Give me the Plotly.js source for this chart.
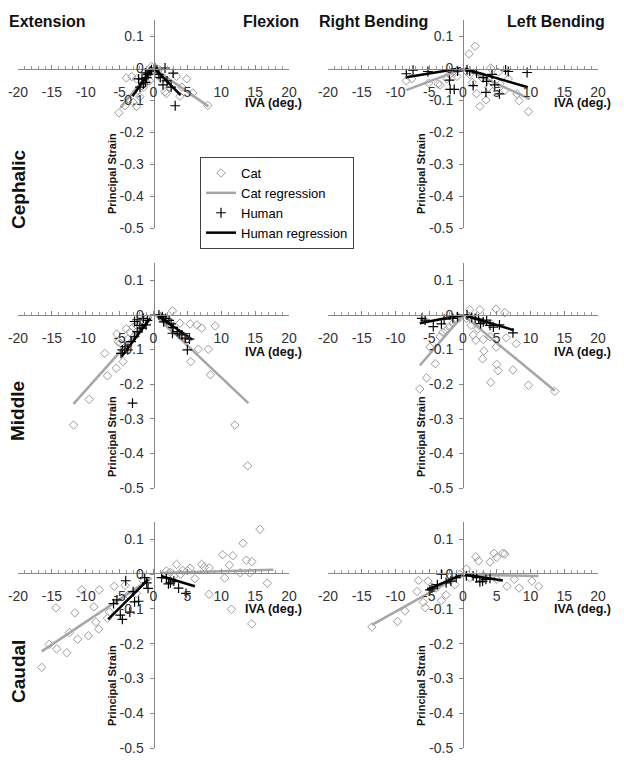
<!DOCTYPE html>
<html><head><meta charset="utf-8">
<script src="https://cdn.plot.ly/plotly-3.0.1.min.js"></script>
<style>html,body{margin:0;padding:0;background:#fff}#chart{width:624px;height:760px}</style>
</head><body><div id="chart"></div>
<script>
// ---------- tick labels ----------
const xTickVals = [-20,-15,-10,-5,0,5,10,15,20];
const xTickText = ['-20','-15','-10','-5','0','5','10','15','20'];
const yTickVals = [0.1,0,-0.1,-0.2,-0.3,-0.4,-0.5];
const yTickText = ['0.1','0','-0.1','-0.2','-0.3','-0.4','-0.5'];

// ---------- Cephalic, extension / flexion ----------
const catA_x = [-5.1,-4.2,-3.7,-4.0,-3.2,-2.5,-2.5,-2.0,-1.7,-2.3,-3.0,-1.0,-0.8,-0.5,-0.3,-1.2,-0.6,0.3,0.6,1.0,1.7,1.9,2.4,3.4,4.2,3.9,4.9,5.8,8.0,0.8,-1.5];
const catA_y = [-0.14,-0.118,-0.097,-0.031,-0.027,-0.034,-0.12,-0.09,-0.055,-0.07,-0.107,-0.045,-0.02,-0.01,0.005,-0.03,-0.04,-0.01,-0.02,-0.03,-0.074,-0.08,-0.06,-0.026,-0.06,-0.088,-0.034,-0.078,-0.117,-0.005,-0.06];
const humA_x = [-2.2,-2.0,-1.7,-1.5,-1.2,-1.0,-0.8,-0.5,-0.3,0.2,0.5,0.8,1.0,1.4,1.7,2.0,2.9,3.2,2.6,-1.2];
const humA_y = [-0.034,-0.06,-0.034,-0.05,-0.015,-0.03,-0.02,-0.01,-0.005,0.0,-0.005,-0.02,-0.03,-0.053,0.0,-0.04,-0.016,-0.118,-0.06,-0.045];
const catRegA_x = [-0.3,-4.9,null,0.3,8.1];
const catRegA_y = [-0.005,-0.125,null,-0.005,-0.12];
const humRegA_x = [-0.3,-3.1,null,0.3,4.0];
const humRegA_y = [-0.005,-0.088,null,-0.005,-0.085];

// ---------- Cephalic, right / left bending ----------
const catB_x = [0.9,1.8,-8.4,2.5,3.4,9.7,8.3,8.0,6.7,5.2,4.1,1.4,-2.4,-3.7,-7.6,-1.2,-0.9,-3.4,-5.1,0.5,2.8,3.8,5.5,6.2,-2.0,1.0,2.0];
const catB_y = [0.044,0.068,-0.04,-0.12,-0.1,-0.136,-0.102,-0.081,-0.034,-0.013,0.0,-0.045,-0.034,-0.05,-0.034,-0.013,-0.026,-0.053,-0.047,-0.01,-0.03,-0.06,-0.05,-0.07,-0.02,-0.02,-0.08];
const humB_x = [-8.4,-7.4,-5.2,-2.0,-1.9,-1.3,-0.8,1.5,3.4,3.5,4.7,5.4,6.3,6.7,9.5,0.6,1.0,2.0,3.0,4.3];
const humB_y = [-0.018,-0.007,-0.011,-0.038,-0.067,-0.067,-0.01,-0.055,-0.076,-0.042,-0.053,-0.081,-0.006,-0.011,-0.014,-0.005,-0.01,-0.015,-0.03,-0.02];
const catRegB_x = [-0.3,-8.4,null,0.3,9.9];
const catRegB_y = [-0.005,-0.069,null,-0.003,-0.097];
const humRegB_x = [-0.3,-8.4,null,0.3,9.6];
const humRegB_y = [-0.001,-0.029,null,-0.003,-0.06];

// ---------- Middle, extension / flexion ----------
const catC_x = [-11.8,-9.5,-7.2,-6.8,-5.5,-4.5,-5.4,-4.9,-4.0,-3.5,-3.0,-2.5,-2.0,-1.5,-1.0,-3.8,-2.8,-5.2,2.8,3.9,5.4,6.4,7.1,9.1,6.6,8.1,5.5,8.4,12.0,13.9,1.5,2.2,3.0,4.5,1.0,2.5];
const catC_y = [-0.318,-0.244,-0.111,-0.176,-0.154,-0.135,-0.055,-0.082,-0.04,-0.05,-0.035,-0.03,-0.025,-0.02,-0.01,-0.07,-0.06,-0.078,0.012,-0.024,-0.026,-0.029,-0.038,-0.032,-0.099,-0.099,-0.135,-0.173,-0.318,-0.436,-0.01,-0.03,-0.045,-0.06,-0.005,-0.02];
const humC_x = [-2.8,-2.4,-1.5,-0.9,-1.1,-1.7,-2.4,-2.8,-3.3,-4.2,-4.6,-4.8,-3.8,-3.1,-2.0,0.8,1.3,1.8,2.3,2.6,2.9,2.8,3.5,4.2,4.7,5.3,5.0,1.5,3.8];
const humC_y = [-0.019,-0.014,-0.01,-0.016,-0.029,-0.038,-0.048,-0.063,-0.077,-0.092,-0.101,-0.111,-0.101,-0.255,-0.03,0.0,-0.005,-0.01,-0.016,-0.026,-0.036,-0.053,-0.048,-0.058,-0.067,-0.07,-0.101,-0.02,-0.055];
const catRegC_x = [-0.3,-11.8,null,0.5,14.0];
const catRegC_y = [-0.005,-0.257,null,-0.005,-0.255];
const humRegC_x = [-0.5,-4.7,null,0.7,5.7];
const humRegC_y = [-0.01,-0.12,null,-0.003,-0.071];

// ---------- Middle, right / left bending ----------
const catD_x = [-6.4,-5.4,-4.1,-4.9,-3.4,-3.0,-2.5,-2.0,-1.5,-1.0,-0.5,1.0,2.5,4.9,6.2,1.5,1.9,3.0,3.1,2.9,4.9,5.0,5.2,4.1,7.4,7.9,6.4,9.7,13.6,4.0,0.5,1.2,2.2];
const catD_y = [-0.214,-0.182,-0.141,-0.093,-0.063,-0.05,-0.045,-0.035,-0.025,-0.015,-0.008,0.015,0.015,0.017,0.007,-0.058,-0.073,-0.071,-0.104,-0.127,-0.093,-0.143,-0.161,-0.195,-0.159,-0.083,-0.066,-0.203,-0.221,-0.063,-0.01,-0.03,-0.04];
const humD_x = [-6.1,-5.6,-4.4,-3.2,-2.8,-1.5,-0.8,1.3,1.8,2.3,3.0,3.5,4.0,5.4,7.4,2.6,4.5,0.6];
const humD_y = [-0.01,-0.015,-0.034,-0.026,-0.012,-0.01,-0.005,-0.007,-0.01,-0.012,-0.02,-0.015,-0.03,-0.029,-0.052,-0.025,-0.035,0.0];
const catRegD_x = [-0.3,-6.4,null,0.3,13.6];
const catRegD_y = [-0.007,-0.146,null,-0.005,-0.219];
const humRegD_x = [-0.3,-6.4,null,0.5,7.5];
const humRegD_y = [-0.001,-0.024,null,-0.003,-0.044];

// ---------- Caudal, extension / flexion ----------
const catE_x = [-16.5,-15.4,-14.3,-12.8,-12.4,-14.4,-11.6,-11.2,-9.6,-10.6,-8.5,-8.1,-8.0,-8.8,-6.5,-6.8,-5.8,-4.2,-3.7,-2.5,-1.5,1.9,3.4,4.3,5.4,6.1,7.1,8.2,8.2,10.2,10.5,11.7,11.2,11.5,13.2,12.8,13.7,14.5,14.2,14.5,15.7,16.8,2.5,3.0,4.0,5.0,7.5];
const catE_y = [-0.268,-0.202,-0.215,-0.226,-0.168,-0.097,-0.111,-0.187,-0.177,-0.045,-0.138,-0.158,-0.045,-0.094,-0.109,-0.127,-0.035,-0.032,-0.06,-0.055,-0.02,0.009,0.028,0.011,0.017,-0.013,0.028,0.018,-0.058,0.056,-0.011,0.053,0.026,-0.101,0.089,0.004,0.04,0.036,0.004,-0.143,0.129,-0.026,0.005,-0.005,0.0,0.01,0.02];
const humE_x = [-4.1,-4.9,-4.6,-3.5,-5.9,-5.4,-2.2,-1.0,-1.3,-0.8,-3.0,1.9,2.2,3.7,4.8,1.2,2.5,3.0,-2.8];
const humE_y = [-0.019,-0.118,-0.13,-0.109,-0.085,-0.074,-0.078,-0.025,-0.01,-0.041,-0.05,-0.011,-0.028,-0.04,-0.055,-0.01,-0.025,-0.02,-0.08];
const catRegE_x = [-0.3,-16.5,null,1.0,17.7];
const catRegE_y = [-0.011,-0.222,null,0.003,0.013];
const humRegE_x = [-0.8,-6.7,null,1.2,6.1];
const humRegE_y = [-0.016,-0.13,null,-0.006,-0.035];

// ---------- Caudal, right / left bending ----------
const catF_x = [-13.5,-9.7,-8.6,-6.8,-6.6,-5.2,-5.9,-5.6,-3.2,-2.5,-1.2,-4.0,-2.0,0.5,1.9,2.3,4.0,4.6,5.0,5.9,6.2,6.5,7.6,8.3,10.2,11.2,5.0,3.0,1.0,-0.5];
const catF_y = [-0.152,-0.136,-0.106,-0.05,-0.018,-0.02,-0.081,-0.096,-0.076,-0.06,-0.03,-0.04,-0.01,0.015,0.05,0.038,0.035,0.06,0.048,0.06,0.058,-0.035,-0.015,-0.04,-0.02,-0.035,-0.015,-0.005,-0.01,0.0];
const humF_x = [-3.2,-4.6,-4.9,-2.5,-1.8,-1.0,0.5,1.5,2.0,2.9,3.4,4.0,-3.8,2.5];
const humF_y = [0.0,-0.04,-0.045,-0.025,-0.02,-0.01,-0.005,-0.005,-0.01,-0.02,-0.015,-0.012,-0.03,-0.022];
const catRegF_x = [-0.3,-13.5,null,0.3,11.2];
const catRegF_y = [-0.003,-0.146,null,-0.002,-0.005];
const humRegF_x = [-0.3,-5.3,null,0.3,5.9];
const humRegF_y = [-0.002,-0.045,null,-0.002,-0.018];

// ---------- layout helpers ----------
const W = 624, H = 760;
const fx = v => v / W;
const fy = v => 1 - v / H;
const FONT = 'Liberation Sans, Arial, sans-serif';
const CAT_COL = '#9c9c9c', CATLINE_COL = '#a6a6a6', HUM_COL = '#000000';

const panels = [
  {cx:catA_x, cy:catA_y, hx:humA_x, hy:humA_y, crx:catRegA_x, cry:catRegA_y, hrx:humRegA_x, hry:humRegA_y, xd:[18,289], yd:[20,228], x0:153.5, y0:69},
  {cx:catB_x, cy:catB_y, hx:humB_x, hy:humB_y, crx:catRegB_x, cry:catRegB_y, hrx:humRegB_x, hry:humRegB_y, xd:[328,598], yd:[20,228], x0:463, y0:69},
  {cx:catC_x, cy:catC_y, hx:humC_x, hy:humC_y, crx:catRegC_x, cry:catRegC_y, hrx:humRegC_x, hry:humRegC_y, xd:[18,289], yd:[263,488], x0:153.5, y0:315},
  {cx:catD_x, cy:catD_y, hx:humD_x, hy:humD_y, crx:catRegD_x, cry:catRegD_y, hrx:humRegD_x, hry:humRegD_y, xd:[328,598], yd:[263,488], x0:463, y0:315},
  {cx:catE_x, cy:catE_y, hx:humE_x, hy:humE_y, crx:catRegE_x, cry:catRegE_y, hrx:humRegE_x, hry:humRegE_y, xd:[18,289], yd:[522,748], x0:153.5, y0:573},
  {cx:catF_x, cy:catF_y, hx:humF_x, hy:humF_y, crx:catRegF_x, cry:catRegF_y, hrx:humRegF_x, hry:humRegF_y, xd:[328,598], yd:[522,748], x0:463, y0:573}
];

const traces = [];
const layout = {
  width: W, height: H,
  margin: {l:0, r:0, t:0, b:0},
  paper_bgcolor: '#fff', plot_bgcolor: 'rgba(0,0,0,0)',
  font: {family: FONT, color: '#000'},
  showlegend: true,
  legend: {
    x: fx(200), y: fy(157), xanchor: 'left', yanchor: 'top',
    bgcolor: '#fff', bordercolor: '#404040', borderwidth: 1,
    font: {family: FONT, size: 13, color: '#000'},
    itemwidth: 30, tracegroupgap: 0, traceorder: 'normal'
  },
  annotations: [],
  hovermode: false
};

panels.forEach((p, i) => {
  const n = i + 1;
  const xa = n === 1 ? 'x' : 'x' + n;
  const ya = n === 1 ? 'y' : 'y' + n;
  const first = i === 0;
  traces.push({type:'scatter', mode:'markers', x:p.cx, y:p.cy, xaxis:xa, yaxis:ya, name:'Cat', legendgroup:'cat', showlegend:first,
    marker:{symbol:'diamond-open', size:6.5, color:CAT_COL, line:{width:1, color:CAT_COL}}, cliponaxis:false});
  traces.push({type:'scatter', mode:'lines', x:p.crx, y:p.cry, xaxis:xa, yaxis:ya, name:'Cat regression', legendgroup:'catreg', showlegend:first,
    line:{color:CATLINE_COL, width:2.5}, connectgaps:false});
  traces.push({type:'scatter', mode:'markers', x:p.hx, y:p.hy, xaxis:xa, yaxis:ya, name:'Human', legendgroup:'hum', showlegend:first,
    marker:{symbol:'cross-thin-open', size:7, color:HUM_COL, line:{width:1.2, color:HUM_COL}}, cliponaxis:false});
  traces.push({type:'scatter', mode:'lines', x:p.hrx, y:p.hry, xaxis:xa, yaxis:ya, name:'Human regression', legendgroup:'humreg', showlegend:first,
    line:{color:HUM_COL, width:2.5}, connectgaps:false});

  layout['xaxis' + (n === 1 ? '' : n)] = {
    domain:[fx(p.xd[0]), fx(p.xd[1])], range:[-20,20], anchor:'free', position: fy(p.y0),
    showline:true, linecolor:'#868686', linewidth:1, showgrid:false, zeroline:false,
    tickmode:'array', tickvals:xTickVals, ticktext:xTickText,
    ticks:'inside', ticklen:4, tickcolor:'#868686', tickwidth:1,
    minor:{tickmode:'linear', tick0:0, dtick:1, ticks:'inside', ticklen:3, tickcolor:'#9a9a9a', showgrid:false},
    tickfont:{family:FONT, size:14, color:'#333'}, ticklabelstandoff:10, fixedrange:true
  };
  layout['yaxis' + (n === 1 ? '' : n)] = {
    domain:[fy(p.yd[1]), fy(p.yd[0])], range:[-0.5,0.15], anchor:'free', position: fx(p.x0),
    showline:true, linecolor:'#868686', linewidth:1, showgrid:false, zeroline:false,
    tickmode:'array', tickvals:yTickVals, ticktext:yTickText,
    ticks:'outside', ticklen:4, tickcolor:'#868686', tickwidth:1,
    tickfont:{family:FONT, size:14, color:'#333'}, ticklabelstandoff:3, fixedrange:true
  };
});

function ann(text, x, y, opts) {
  layout.annotations.push(Object.assign({
    text: text, x: fx(x), y: fy(y), xref:'paper', yref:'paper', showarrow:false,
    xanchor:'center', yanchor:'middle', font:{family:FONT, size:12, color:'#000'}
  }, opts || {}));
}
const HB = {family:FONT, size:16, color:'#111'};
ann('<b>Extension</b>', 7, 21, {xanchor:'left', font:HB});
ann('<b>Flexion</b>', 301, 21, {xanchor:'right', font:HB});
ann('<b>Right Bending</b>', 317, 21, {xanchor:'left', font:HB});
ann('<b>Left Bending</b>', 607, 21, {xanchor:'right', font:HB});
const RB = {family:FONT, size:19, color:'#111'};
ann('<b>Cephalic</b>', 18, 189, {textangle:-90, font:RB});
ann('<b>Middle</b>', 18, 411, {textangle:-90, font:RB});
ann('<b>Caudal</b>', 18, 672, {textangle:-90, font:RB});
const AB = {family:FONT, size:12.5, color:'#111'};
[103, 352, 609].forEach(yy => {
  ann('<b>IVA (deg.)</b>', 304, yy, {xanchor:'right', font:AB});
  ann('<b>IVA (deg.)</b>', 613, yy, {xanchor:'right', font:AB});
});
const PB = {family:FONT, size:11, color:'#111'};
[174, 437, 686].forEach(yy => {
  ann('<b>Principal Strain</b>', 112, yy, {textangle:-90, font:PB});
  ann('<b>Principal Strain</b>', 421, yy, {textangle:-90, font:PB});
});

Plotly.newPlot('chart', traces, layout, {displayModeBar:false, staticPlot:true});
</script>
</body></html>
